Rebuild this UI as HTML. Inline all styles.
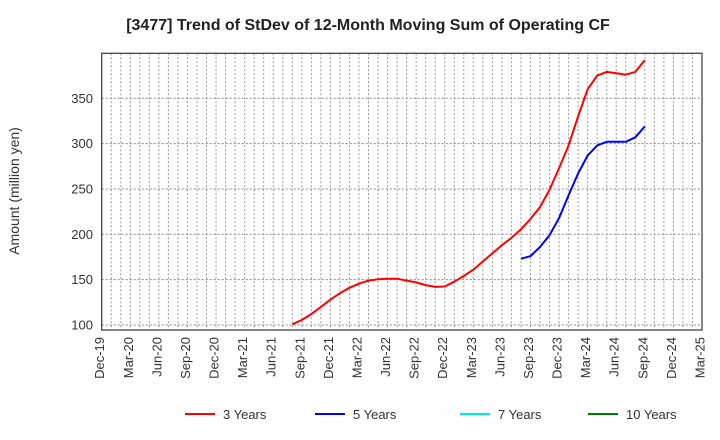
<!DOCTYPE html>
<html><head><meta charset="utf-8"><style>
body{margin:0;background:#fff;}
svg{display:block;font-family:"Liberation Sans",Arial,sans-serif;}
</style></head><body>
<svg id="chart" width="720" height="440" viewBox="0 0 720 440" xmlns="http://www.w3.org/2000/svg">
<rect width="720" height="440" fill="#fff"/>
<text x="368" y="30" text-anchor="middle" font-size="16" font-weight="bold" fill="#222">[3477]  Trend of StDev of 12-Month Moving Sum of Operating CF</text>
<text transform="translate(19,191) rotate(-90)" text-anchor="middle" font-size="14" fill="#333">Amount (million yen)</text>
<g id="grid"></g>
<g id="yticks"></g>
<g id="xticks"></g>
<g id="series"></g>
<rect x="101.7" y="53.3" width="600.3" height="276.7" fill="none" stroke="#444" stroke-width="1.3"/>
<g id="legend"></g>
</svg>
<script>
const xLabels=["Dec-19","Mar-20","Jun-20","Sep-20","Dec-20","Mar-21","Jun-21","Sep-21","Dec-21","Mar-22","Jun-22","Sep-22","Dec-22","Mar-23","Jun-23","Sep-23","Dec-23","Mar-24","Jun-24","Sep-24","Dec-24","Mar-25"];
const yTicks=[100,150,200,250,300,350];
const red3Start=20;
const red3=[100.8,105.5,112,120,128,135,141,145.5,149,150.4,151,151,149,147,144,142,142.5,147.7,154,161,170,179,188,196,205.5,217,230,249,273,298,330,360,375,379,377.5,376,379,392];
const blue5Start=44;
const blue5=[173,176,186,199,218,243,267,287,298,302,302,302,307,319];
const seriesNames=["3 Years","5 Years","7 Years","10 Years"];
const seriesColors=["#ff0000","#0000ff","#00e5ff","#008000"];

const NS="http://www.w3.org/2000/svg";
const L=101.7,R=702,T=53.3,B=330;
const nMonths=63;
const xS=m=>L+(R-L)*m/nMonths;
const yS=v=>325-(v-100)*0.907;
function mk(tag,attrs,parent){const e=document.createElementNS(NS,tag);for(const k in attrs)e.setAttribute(k,attrs[k]);parent.appendChild(e);return e;}
const grid=document.getElementById('grid');
for(let m=1;m<nMonths;m++){
  const l=mk('line',{x1:xS(m),x2:xS(m),y1:T,y2:B,stroke:'#999','stroke-width':1,'stroke-dasharray':'2,2'},grid);
  
  
}
const yt=document.getElementById('yticks');
yTicks.forEach(v=>{
  const l=mk('line',{x1:L,x2:R,y1:yS(v),y2:yS(v),stroke:'#888','stroke-width':1,'stroke-dasharray':'2,2'},grid);
  
  
  const t=mk('text',{x:93,y:yS(v)+4.5,'text-anchor':'end','font-size':13,fill:'#333'},yt);
  t.textContent=v;
  
  
});
const xt=document.getElementById('xticks');
xLabels.forEach((s,i)=>{
  const x=xS(i*3)+2.5;
  const t=mk('text',{transform:`translate(${x},337) rotate(-90)`,'text-anchor':'end','font-size':13,fill:'#333'},xt);
  t.textContent=s;
  
  
});
const sg=document.getElementById('series');
function drawSeries(vals,start,color,name){
  const pts=vals.map((v,i)=>xS(start+i).toFixed(1)+','+yS(v).toFixed(1)).join(' ');
  const p=mk('polyline',{points:pts,fill:'none',stroke:color,'stroke-width':2,'stroke-linejoin':'round'},sg);
  
  
}
drawSeries(red3,red3Start,seriesColors[0],'line-3-years');
drawSeries(blue5,blue5Start,seriesColors[1],'line-5-years');
const lg=document.getElementById('legend');
const lx=[185,315,460,588];
seriesNames.forEach((n,i)=>{
  const g=mk('g',{},lg);
  
  
  mk('line',{x1:lx[i],x2:lx[i]+30,y1:414,y2:414,stroke:seriesColors[i],'stroke-width':2},g);
  const t=mk('text',{x:lx[i]+38,y:419,'font-size':13,fill:'#333'},g);
  t.textContent=n;
});
</script>
</body></html>
